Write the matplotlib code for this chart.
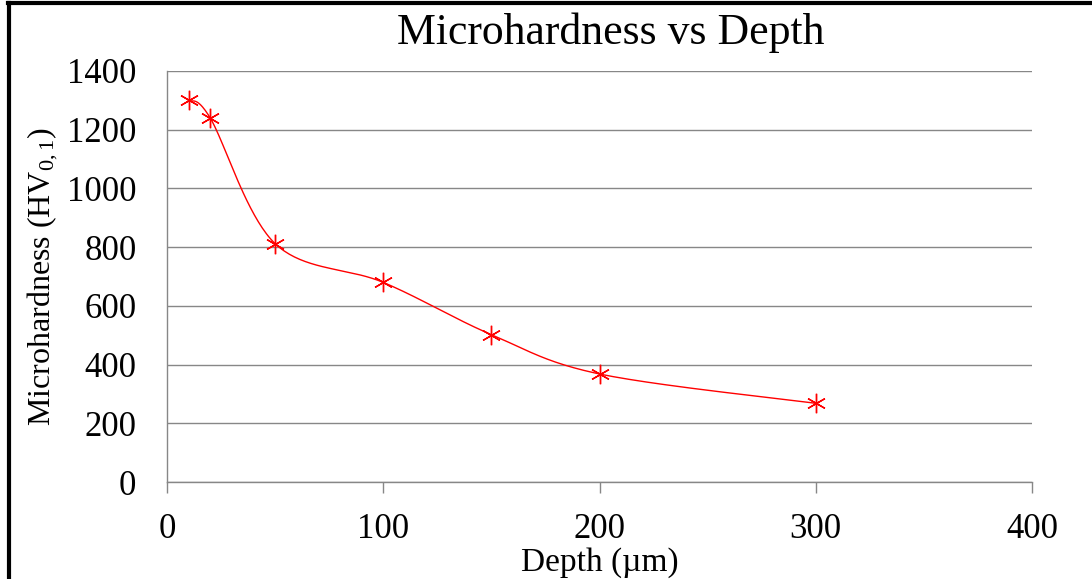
import numpy as np
import matplotlib
matplotlib.use("Agg")
import matplotlib.pyplot as plt
from matplotlib.lines import Line2D

plt.rcParams['font.family'] = ['Liberation Serif', 'DejaVu Serif']
plt.rcParams['mathtext.fontset'] = 'custom'
plt.rcParams['mathtext.rm'] = 'Liberation Serif'
plt.rcParams['mathtext.it'] = 'Liberation Serif:italic'

# Microhardness measurements at each depth below the surface
depth_um = [10, 20, 50, 100, 150, 200, 300]
hardness_hv = [1300, 1240, 812, 680, 502, 368, 268]
x_ticks = [0, 100, 200, 300, 400]
y_ticks = [0, 200, 400, 600, 800, 1000, 1200, 1400]


def smooth_curve(xs, ys, n=40):
    """Catmull-Rom style cubic Bezier through every point."""
    p = np.column_stack([xs, ys]).astype(float)
    ext = np.vstack([p[0], p, p[-1]])
    out = []
    t = np.linspace(0, 1, n)[:, None]
    for i in range(1, len(ext) - 2):
        p0, p3 = ext[i], ext[i + 1]
        c1 = p0 + (ext[i + 1] - ext[i - 1]) / 6.0
        c2 = p3 - (ext[i + 2] - ext[i]) / 6.0
        seg = ((1 - t) ** 3) * p0 + 3 * ((1 - t) ** 2) * t * c1 \
            + 3 * (1 - t) * t ** 2 * c2 + t ** 3 * p3
        out.append(seg if i == 1 else seg[1:])
    seg = np.vstack(out)
    return seg[:, 0], seg[:, 1]


fig = plt.figure(figsize=(10.92, 5.79), dpi=100)
ax = fig.add_axes([0.1529, 0.1675, 0.7922, 0.7099])

grid_col = '#878787'
for yv in y_ticks:
    ax.axhline(yv, color=grid_col, lw=1.0, zorder=1)

sx, sy = smooth_curve(depth_um, hardness_hv)
ax.plot(sx, sy, color='#FF0000', lw=1.0, zorder=3)
ax.plot(depth_um, hardness_hv, linestyle='none', marker=(6, 2, 0),
        markersize=14, markeredgewidth=1.0, color='#FF0000', zorder=4)

ax.set_xlim(0, 400)
ax.set_ylim(0, 1400)
ax.set_xticks(x_ticks)
ax.set_yticks(y_ticks)
ax.tick_params(axis='x', direction='out', length=8, width=1, color=grid_col,
               labelsize=25, pad=14)
ax.tick_params(axis='y', length=0, labelsize=25, pad=22)

for side in ['top', 'right']:
    ax.spines[side].set_visible(False)
for side in ['left', 'bottom']:
    ax.spines[side].set_color(grid_col)
    ax.spines[side].set_linewidth(1.0)

ax.set_xlabel('Depth (\u00b5m)', fontsize=24, labelpad=1)
ax.set_ylabel(r'Microhardness (HV$_{0,1}$)', fontsize=23, labelpad=5)
fig.text(0.559, 0.943, 'Microhardness vs Depth', fontsize=31.5,
         ha='center', va='center')

# Frame lines along the top and left edges of the figure
fig.add_artist(Line2D([8 / 1092, 1], [1 - 3 / 579, 1 - 3 / 579],
                      transform=fig.transFigure, color='black', lw=3))
fig.add_artist(Line2D([9 / 1092, 9 / 1092], [0, 1 - 3 / 579],
                      transform=fig.transFigure, color='black', lw=3))

fig.savefig('out.png', dpi=100)
